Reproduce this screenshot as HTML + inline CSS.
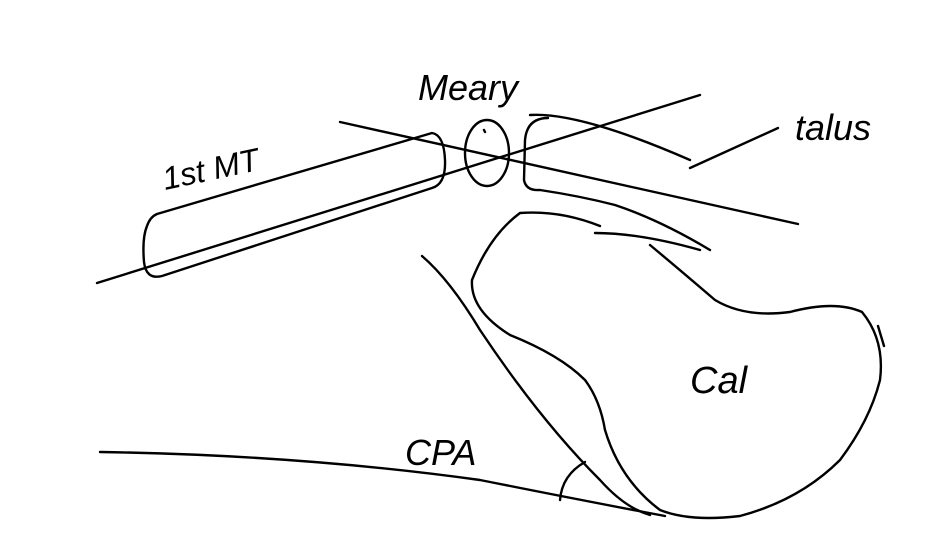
<!DOCTYPE html>
<html><head><meta charset="utf-8"><style>
html,body{margin:0;padding:0;background:#fff;width:946px;height:558px;overflow:hidden}
svg{display:block}
text{font-family:"Liberation Sans",sans-serif;fill:#000}
</style></head><body>
<svg width="946" height="558" viewBox="0 0 946 558" fill="none" stroke="#000" stroke-width="2.4" stroke-linecap="round" stroke-linejoin="round">
<!-- long lines -->
<path d="M97 283 L700 95"/>
<path d="M340 122 Q560 170 798 224"/>
<!-- 1st MT rounded bar -->
<path d="M157 214 L432 133 Q444 135 445 160 Q446 184 432 188 L162 276 Q146 280 144 262 Q142 238 147 226 Q150 217 157 214 Z"/>
<!-- Meary oval -->
<ellipse cx="487" cy="153" rx="22" ry="33"/>
<path d="M484 130 l1 2"/>
<!-- talus bracket -->
<path d="M548 118 Q527 118 525 140 L524 180 Q526 191 540 190 Q580 196 615 205 Q660 220 710 250"/>
<path d="M530 115 Q580 112 690 160"/>
<path d="M595 233 Q640 233 700 250"/>
<path d="M690 168 L778 128"/>
<!-- Calcaneus -->
<path d="M600 226 Q560 210 520 213 Q490 235 472 280 Q470 310 510 335 Q560 355 585 380 Q600 400 605 430 Q620 480 660 510 Q690 522 740 516 Q800 500 840 460 Q870 420 880 380 Q885 340 862 312 Q835 300 790 312 Q745 318 715 300 Q680 270 650 245"/>
<path d="M878 326 L884 346"/>
<!-- CPA lines -->
<path d="M422 256 Q450 280 480 330 Q540 420 600 480 Q625 508 650 515"/>
<path d="M100 452 Q300 455 480 480 Q580 500 665 516"/>
<path d="M585 462 Q562 475 560 500"/>
</svg>
<svg width="946" height="558" style="position:absolute;left:0;top:0">
<text x="418" y="100" font-size="36" font-style="italic">Meary</text>
<text x="165" y="190" font-size="32" font-style="italic" transform="rotate(-12 165 190)">1st MT</text>
<text x="795" y="140" font-size="36" font-style="italic">talus</text>
<text x="690" y="393" font-size="38" font-style="italic">Cal</text>
<text x="405" y="465" font-size="36" font-style="italic">CPA</text>
</svg>
</body></html>
